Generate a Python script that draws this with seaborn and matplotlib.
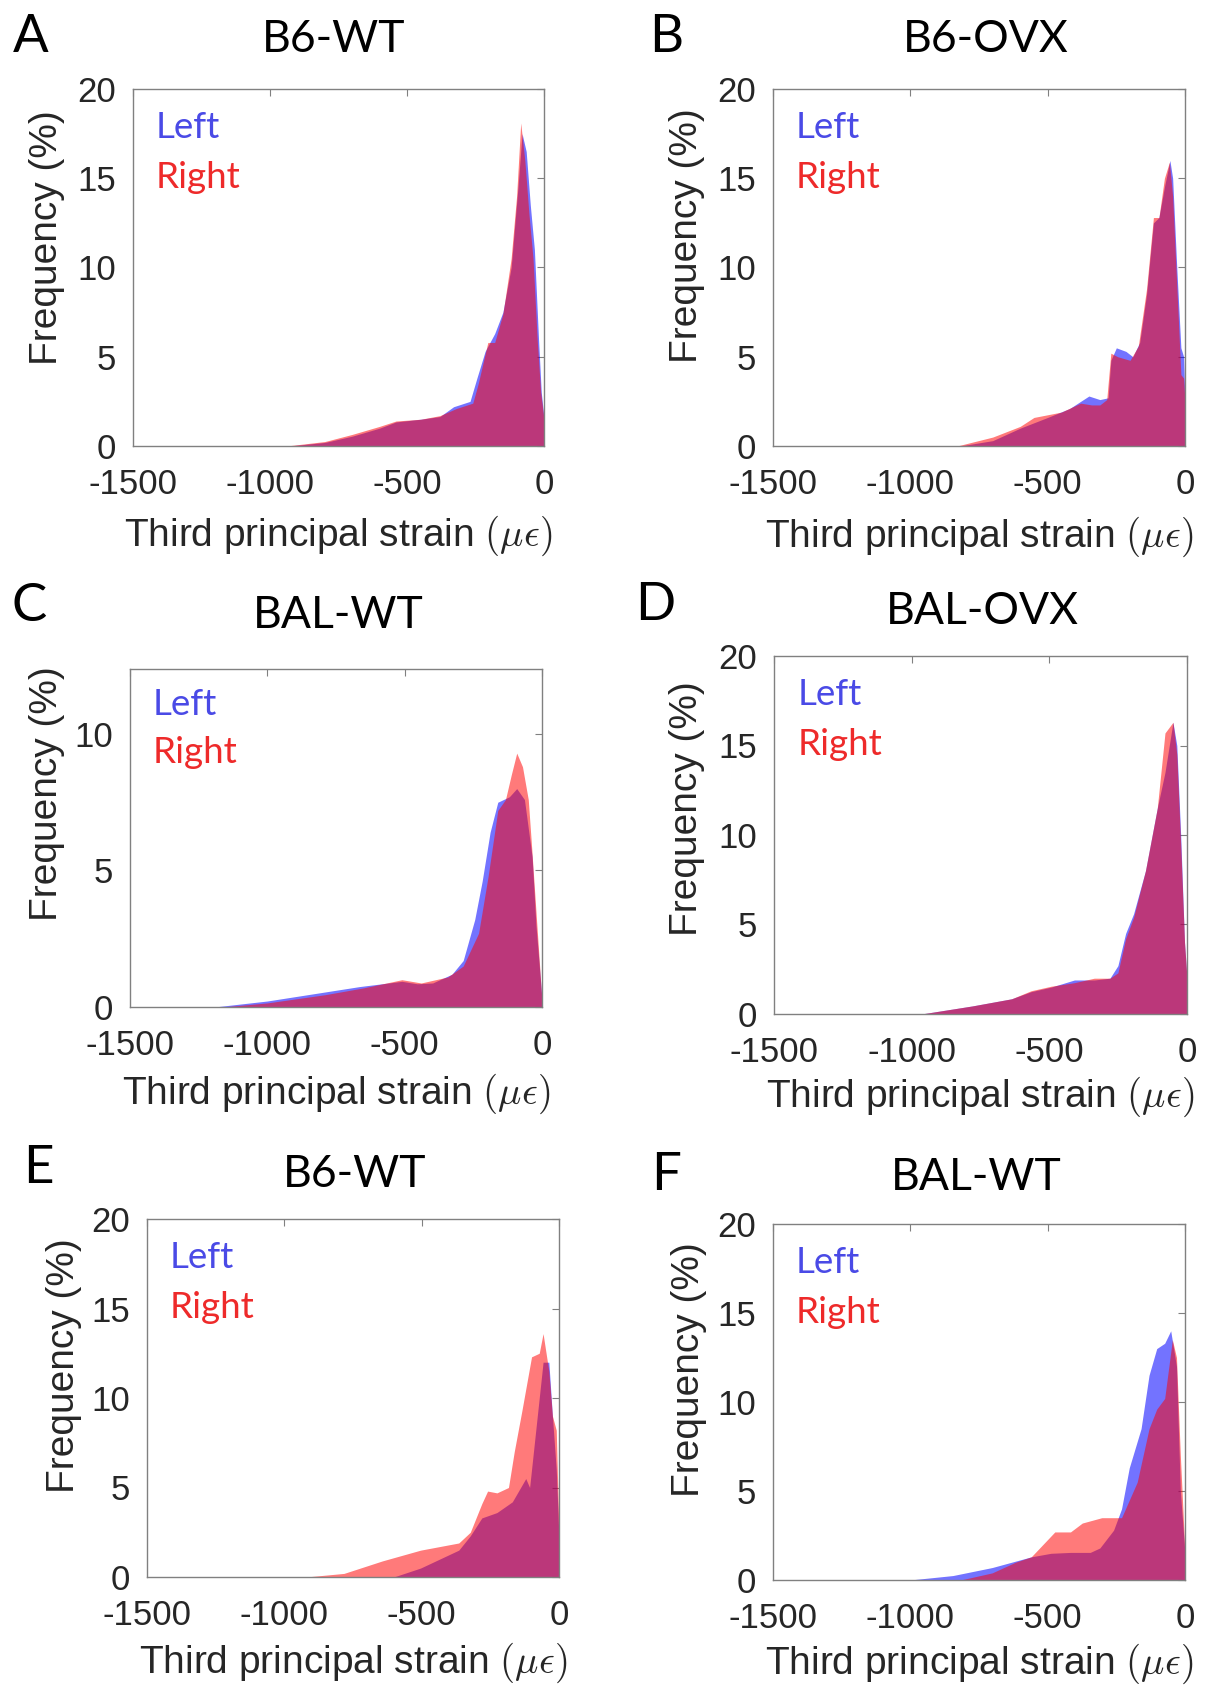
import numpy as np
import matplotlib
matplotlib.use("Agg")
import matplotlib.pyplot as plt
import seaborn as sns

# パネルごとのデータ (x: strain, y: frequency %)
a_left_x = [-930, -800, -700, -600, -540, -450, -380, -330, -270, -245, -215, -180, -150, -120, -95, -80, -65, -50, -35, -20, -10, 0]
a_left_y = [0, 0.2, 0.55, 1.0, 1.35, 1.5, 1.65, 2.2, 2.5, 3.8, 5.3, 6.3, 7.5, 10.0, 14.5, 17.5, 16.5, 13.5, 11.0, 6.0, 3.0, 1.6]
a_right_x = [-940, -800, -700, -600, -540, -450, -380, -320, -260, -240, -205, -180, -150, -120, -100, -85, -70, -55, -40, -25, -12, 0]
a_right_y = [0, 0.25, 0.65, 1.1, 1.4, 1.5, 1.7, 2.1, 2.4, 3.5, 5.8, 5.8, 7.4, 10.5, 14.0, 18.1, 16.0, 13.0, 10.5, 6.0, 3.0, 1.5]

b_left_x = [-820, -700, -600, -500, -420, -380, -350, -310, -280, -270, -250, -215, -190, -165, -140, -115, -95, -75, -55, -45, -30, -15, -5, 0]
b_left_y = [0, 0.3, 1.0, 1.6, 2.1, 2.5, 2.8, 2.6, 2.7, 4.8, 5.5, 5.3, 5.0, 5.8, 8.5, 12.5, 12.8, 14.5, 16.0, 15.0, 10.0, 5.5, 5.0, 2.5]
b_right_x = [-830, -700, -600, -550, -450, -380, -340, -310, -285, -270, -245, -200, -170, -140, -115, -95, -75, -57, -45, -30, -15, -5, 0]
b_right_y = [0, 0.5, 1.1, 1.6, 1.9, 2.4, 2.3, 2.3, 2.6, 5.2, 5.0, 4.8, 5.6, 8.8, 12.8, 12.8, 15.0, 15.9, 14.0, 9.0, 4.0, 3.8, 2.5]

c_left_x = [-1193, -1000, -790, -663, -510, -454, -398, -328, -287, -245, -218, -189, -161, -119, -92, -64, -36, -22, 0]
c_left_y = [0, 0.22, 0.55, 0.75, 0.94, 0.85, 0.88, 1.2, 1.7, 3.2, 4.6, 6.4, 7.5, 7.7, 8.0, 7.6, 5.5, 3.0, 0.3]
c_right_x = [-1165, -1000, -790, -650, -510, -440, -343, -287, -231, -196, -161, -133, -112, -92, -71, -50, -36, -22, 0]
c_right_y = [0, 0.15, 0.45, 0.7, 1.0, 0.88, 1.1, 1.5, 2.7, 4.8, 7.2, 7.6, 8.5, 9.3, 8.8, 7.6, 5.6, 3.5, 0.2]

d_left_x = [-965, -780, -637, -566, -494, -409, -337, -280, -251, -223, -194, -151, -108, -80, -51, -37, -23, -9, 0]
d_left_y = [0, 0.45, 0.85, 1.25, 1.5, 1.9, 1.9, 2.0, 2.7, 4.5, 5.6, 8.0, 11.5, 13.5, 16.3, 15.0, 10.0, 4.0, 2.0]
d_right_x = [-965, -780, -637, -566, -494, -409, -337, -280, -251, -223, -194, -151, -108, -80, -51, -37, -23, -9, 0]
d_right_y = [0, 0.45, 0.85, 1.3, 1.55, 1.75, 2.0, 2.0, 2.3, 4.2, 5.4, 8.0, 11.5, 15.7, 16.3, 14.5, 9.5, 4.0, 2.0]

e_left_x = [-602, -504, -365, -323, -281, -226, -170, -121, -107, -86, -58, -37, -24, -10, 0]
e_left_y = [0, 0.5, 1.5, 2.3, 3.3, 3.6, 4.2, 5.5, 5.0, 8.0, 12.0, 12.0, 9.0, 6.0, 2.2]
e_right_x = [-922, -783, -643, -504, -365, -323, -281, -260, -226, -184, -163, -135, -100, -72, -58, -37, -24, -10, 0]
e_right_y = [0, 0.2, 0.9, 1.5, 1.9, 2.5, 4.1, 4.8, 4.7, 5.0, 7.0, 9.3, 12.3, 12.5, 13.6, 11.5, 9.0, 8.2, 2.5]

f_left_x = [-1002, -845, -702, -631, -560, -488, -417, -345, -310, -260, -231, -203, -160, -131, -103, -74, -52, -31, -17, 0]
f_left_y = [0, 0.25, 0.7, 1.0, 1.3, 1.5, 1.55, 1.55, 1.8, 2.8, 4.0, 6.3, 8.5, 11.5, 13.0, 13.3, 14.0, 12.0, 5.0, 1.5]
f_right_x = [-817, -702, -617, -560, -517, -474, -417, -374, -303, -231, -174, -131, -103, -74, -46, -31, -17, 0]
f_right_y = [0, 0.4, 1.0, 1.3, 2.0, 2.7, 2.7, 3.2, 3.5, 3.5, 5.5, 8.5, 9.6, 10.2, 13.5, 12.5, 7.0, 1.5]

letters = ['A', 'B', 'C', 'D', 'E', 'F']
titles = ['B6-WT', 'B6-OVX', 'BAL-WT', 'BAL-OVX', 'B6-WT', 'BAL-WT']
ymaxes = [20, 20, 12.38, 20, 20, 20]
yticks_list = [[0, 5, 10, 15, 20], [0, 5, 10, 15, 20], [0, 5, 10], [0, 5, 10, 15, 20], [0, 5, 10, 15, 20], [0, 5, 10, 15, 20]]
xticks = [-1500, -1000, -500, 0]

left_series = [(a_left_x, a_left_y), (b_left_x, b_left_y), (c_left_x, c_left_y),
               (d_left_x, d_left_y), (e_left_x, e_left_y), (f_left_x, f_left_y)]
right_series = [(a_right_x, a_right_y), (b_right_x, b_right_y), (c_right_x, c_right_y),
                (d_right_x, d_right_y), (e_right_x, e_right_y), (f_right_x, f_right_y)]

sns.set_theme(style="white")
plt.rcParams['font.family'] = ['Liberation Sans', 'DejaVu Sans']
plt.rcParams['axes.unicode_minus'] = False
plt.rcParams['mathtext.fontset'] = 'cm'

W, H = 1215, 1686
# axes の位置 (pixel: left, top, right, bottom)
boxes = [(133, 89, 544, 446), (773, 89, 1185, 446), (130, 669, 542, 1007),
         (774, 656, 1187, 1014), (147, 1219, 559, 1577), (773, 1224, 1185, 1580)]
# 文字の位置 (pixel)
letter_pos = [(13, 52), (649, 52), (11, 621), (635, 620), (23, 1183), (651, 1190)]
title_pos = [(334, 52), (986, 52), (338, 628), (982, 624), (355, 1187), (976, 1190)]
ylab_pos = [(-0.166, 0.585), (-0.165, 0.588), (-0.158, 0.63),
            (-0.168, 0.575), (-0.158, 0.59), (-0.16, 0.59)]
xlab_y = [-0.19, -0.192, -0.19, -0.17, -0.178, -0.172]

fig = plt.figure(figsize=(W / 100, H / 100), dpi=100)
fig.patch.set_facecolor('white')

blue = (0.0, 0.0, 1.0)
red = (1.0, 0.0, 0.0)

for i in range(6):
    l, t, r, b = boxes[i]
    ax = fig.add_axes([l / W, 1 - b / H, (r - l) / W, (b - t) / H])
    lx, ly = left_series[i]
    rx, ry = right_series[i]
    ax.fill_between(lx, 0, ly, color=blue, alpha=0.55, linewidth=0)
    ax.fill_between(rx, 0, ry, color=red, alpha=0.52, linewidth=0)
    ax.set_xlim(-1500, 0)
    ax.set_ylim(0, ymaxes[i])
    ax.set_xticks(xticks)
    ax.set_yticks(yticks_list[i])
    ax.tick_params(direction='in', length=5, width=0.8, color='#808080',
                   top=True, right=True, labelsize=25, labelcolor='#262626')
    ax.tick_params(axis='x', pad=16)
    ax.tick_params(axis='y', pad=12)
    for s in ax.spines.values():
        s.set_color('#808080')
        s.set_linewidth(1.0)
    ax.set_xlabel(r'Third principal strain $(\mu\epsilon)$', fontsize=28, color='#262626')
    ax.set_ylabel('Frequency (%)', fontsize=28, color='#262626')
    ax.xaxis.set_label_coords(0.5, xlab_y[i])
    ax.yaxis.set_label_coords(*ylab_pos[i])
    ax.text(0.056, 0.863, 'Left', transform=ax.transAxes, fontsize=26.5,
            family='Lato', color='#4a4ae6', va='baseline')
    ax.text(0.056, 0.723, 'Right', transform=ax.transAxes, fontsize=26.5,
            family='Lato', color='#ee2a2a', va='baseline')
    lpx, lpy = letter_pos[i]
    fig.text(lpx / W, 1 - lpy / H, letters[i], fontsize=38, family='Lato',
             color='black', va='baseline', ha='left')
    tpx, tpy = title_pos[i]
    fig.text(tpx / W, 1 - tpy / H, titles[i], fontsize=32, family='Lato',
             color='black', va='baseline', ha='center')

fig.savefig('out.png', dpi=100, facecolor='white')
